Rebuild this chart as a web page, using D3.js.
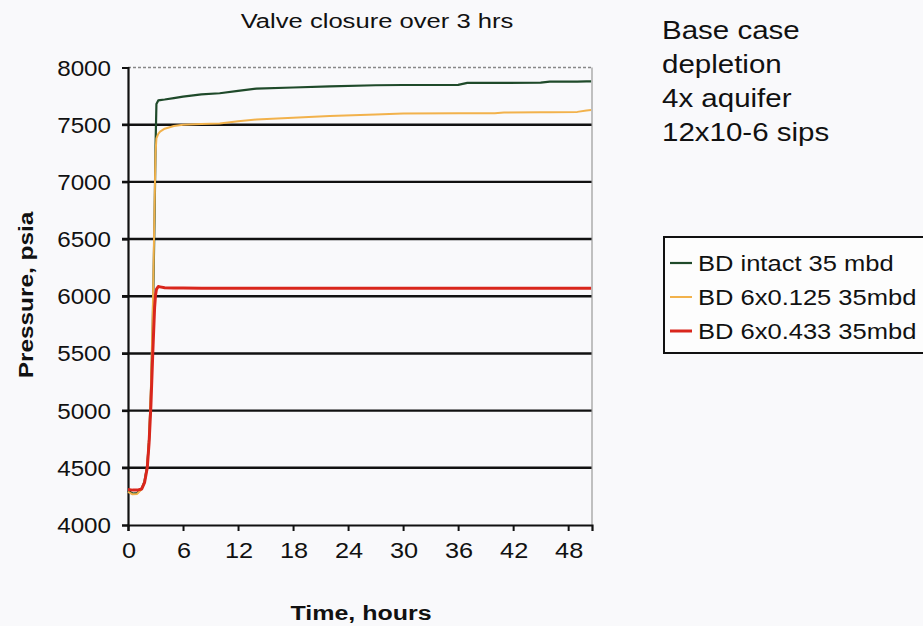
<!DOCTYPE html>
<html>
<head>
<meta charset="utf-8">
<script src="https://cdn.jsdelivr.net/npm/d3@7"></script>
<style>
  body { margin: 0; background: #f9f9fb; }
  svg { display: block; }
</style>
</head>
<body>
<div id="chart"></div>
<script>
// chart values
var timeHrs = [0, 0.5, 1, 1.5, 1.8, 2.1, 2.3, 2.5, 2.7, 2.9, 3.0, 3.1, 3.3, 3.5, 4, 5, 6, 8, 10, 12, 14, 18, 22, 27, 30, 36, 37, 40, 41, 45, 46, 49, 50, 50.5];
var intact = [4300, 4275, 4280, 4320, 4380, 4520, 4750, 5150, 5750, 6700, 7300, 7680, 7712, 7715, 7720, 7732, 7745, 7765, 7775, 7795, 7815, 7825, 7835, 7845, 7847, 7848, 7865, 7866, 7866, 7868, 7876, 7877, 7878, 7878];
var bd0125 = [4290, 4268, 4272, 4315, 4375, 4510, 4760, 5200, 5850, 6800, 7250, 7380, 7420, 7440, 7465, 7488, 7500, 7505, 7510, 7530, 7545, 7560, 7575, 7590, 7598, 7600, 7600, 7601, 7607, 7608, 7608, 7612, 7625, 7628];
var bd0433 = [4310, 4305, 4305, 4315, 4370, 4500, 4720, 5050, 5500, 5900, 6010, 6060, 6085, 6082, 6075, 6072, 6072, 6070, 6070, 6070, 6070, 6070, 6070, 6070, 6070, 6070, 6070, 6070, 6070, 6070, 6070, 6070, 6070, 6070];
var seriesNames = ["BD intact 35 mbd", "BD 6x0.125 35mbd", "BD 6x0.433 35mbd"];
var xTicks = [0, 6, 12, 18, 24, 30, 36, 42, 48];
var yTicks = [4000, 4500, 5000, 5500, 6000, 6500, 7000, 7500, 8000];
var noteLines = ["Base case", "depletion", "4x aquifer", "12x10-6 sips"];

var W = 923, H = 626;
var colors = ["#1f4a2a", "#f2b24c", "#d9261c"];
var widths = [2.2, 2, 3];

var svg = d3.select("#chart").append("svg")
    .attr("width", W)
    .attr("height", H);

var x = d3.scaleLinear().domain([0, 50.6]).range([128, 592]);
var y = d3.scaleLinear().domain([4000, 8000]).range([525, 67.5]);

// stretched text, the scan is wider than normal Arial
function label(g, str, px, py, size, sx, anchor, weight) {
    return g.append("text")
        .attr("transform", "translate(" + px + "," + py + ") scale(" + sx + ",1)")
        .attr("text-anchor", anchor || "start")
        .attr("font-family", "Liberation Sans, Arial, sans-serif")
        .attr("font-size", size)
        .attr("font-weight", weight || "normal")
        .attr("fill", "#111")
        .text(str);
}

// gridlines
svg.append("g").selectAll("line")
    .data(yTicks.filter(function(d) { return d > 4000 && d < 8000; }))
    .enter().append("line")
    .attr("x1", x(0) - 6).attr("x2", x.range()[1])
    .attr("y1", function(d) { return y(d); })
    .attr("y2", function(d) { return y(d); })
    .attr("stroke", "#111")
    .attr("stroke-width", 2.4);

// top and right frame
svg.append("line")
    .attr("x1", x(0)).attr("x2", x.range()[1])
    .attr("y1", y(8000)).attr("y2", y(8000))
    .attr("stroke", "#888").attr("stroke-width", 1.5)
    .attr("stroke-dasharray", "3,2");
svg.append("line")
    .attr("x1", x.range()[1]).attr("x2", x.range()[1])
    .attr("y1", y(8000)).attr("y2", y(4000))
    .attr("stroke", "#999").attr("stroke-width", 1.2);

// axes
var yAxis = svg.append("g")
    .attr("transform", "translate(" + x(0) + ",0)")
    .call(d3.axisLeft(y).tickValues(yTicks).tickSize(6).tickFormat(""));
var xAxis = svg.append("g")
    .attr("transform", "translate(0," + y(4000) + ")")
    .call(d3.axisBottom(x).tickValues(xTicks).tickSize(6).tickFormat(""));
[xAxis, yAxis].forEach(function(a) {
    a.select(".domain").attr("stroke", "#111").attr("stroke-width", 2.2);
    a.selectAll(".tick line").attr("stroke", "#111").attr("stroke-width", 2);
});

yTicks.forEach(function(v) {
    label(svg, v, 111, y(v) + 8, 22, 1.1, "end");
});
xTicks.forEach(function(v) {
    label(svg, v, x(v) + 1, 558, 22, 1.15, "middle");
});

// series
var allSeries = [intact, bd0125, bd0433];
var line = d3.line()
    .x(function(d, i) { return x(timeHrs[i]); })
    .y(function(d) { return y(d); });
allSeries.forEach(function(vals, k) {
    svg.append("path")
        .datum(vals)
        .attr("d", line)
        .attr("fill", "none")
        .attr("stroke", colors[k])
        .attr("stroke-width", widths[k])
        .attr("stroke-linejoin", "round");
});

// titles
label(svg, "Valve closure over 3 hrs", 377, 28, 21, 1.22, "middle");
label(svg, "Time, hours", 361, 620, 20, 1.25, "middle", "bold");
svg.append("text")
    .attr("transform", "translate(33,295) rotate(-90) scale(1.22,1)")
    .attr("text-anchor", "middle")
    .attr("font-family", "Liberation Sans, Arial, sans-serif")
    .attr("font-size", 20)
    .attr("font-weight", "bold")
    .attr("fill", "#111")
    .text("Pressure, psia");

// note at top right
noteLines.forEach(function(s, i) {
    label(svg, s, 662, 39 + i * 34, 25, 1.18);
});

// legend
var lg = svg.append("g");
lg.append("rect")
    .attr("x", 664).attr("y", 237)
    .attr("width", 270).attr("height", 116)
    .attr("fill", "#fdfdfd")
    .attr("stroke", "#111").attr("stroke-width", 2);
seriesNames.forEach(function(s, i) {
    var ly = 263 + i * 34;
    lg.append("line")
        .attr("x1", 670).attr("x2", 692)
        .attr("y1", ly).attr("y2", ly)
        .attr("stroke", colors[i]).attr("stroke-width", widths[i]);
    label(lg, s, 698, ly + 8, 22, 1.16);
});
</script>
</body>
</html>
